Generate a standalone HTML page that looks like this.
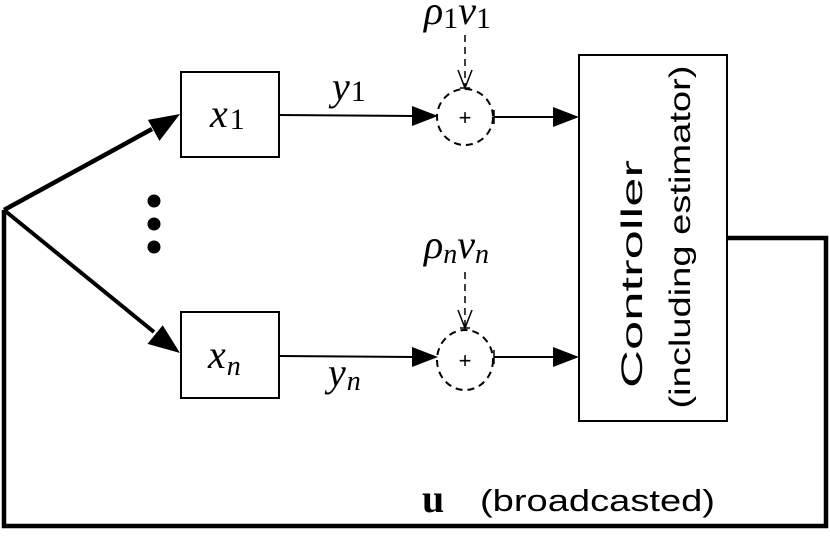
<!DOCTYPE html>
<html><head><style>body{margin:0;background:#fff}
.m{font-family:"Liberation Serif",serif;font-style:italic;font-size:40px}
.s{font-size:30px;font-style:normal}
.si{font-size:28px}
.sans{font-family:"Liberation Sans",sans-serif}
</style></head><body>
<svg width="830" height="534" viewBox="0 0 830 534" xmlns="http://www.w3.org/2000/svg">
<g fill="none" stroke="#000">
<rect x="181" y="72" width="98" height="85" stroke-width="2"/>
<rect x="181" y="312" width="98" height="86" stroke-width="2"/>
<rect x="579" y="55" width="148" height="366" stroke-width="2"/>
<polyline points="727,238 826,238 826,526 4,526 4,210" stroke-width="4.5"/>
<line x1="4" y1="210" x2="152" y2="129" stroke-width="4.5"/>
<line x1="4" y1="210" x2="154" y2="332" stroke-width="4"/>
<line x1="279" y1="115" x2="414" y2="116" stroke-width="2"/>
<line x1="279" y1="356" x2="414" y2="357" stroke-width="2"/>
<line x1="494" y1="117" x2="556" y2="117" stroke-width="2"/>
<line x1="494" y1="357" x2="556" y2="357" stroke-width="2"/>
<line x1="494" y1="110" x2="494" y2="124" stroke-width="1.5"/>
<line x1="494" y1="350" x2="494" y2="364" stroke-width="1.5"/>
<ellipse cx="465" cy="117" rx="28" ry="28" stroke-width="2" stroke-dasharray="7,5"/>
<ellipse cx="465" cy="360" rx="28" ry="30" stroke-width="2" stroke-dasharray="7,5"/>
<line x1="465" y1="35" x2="465" y2="88" stroke-width="1.5" stroke-dasharray="7,5"/>
<polyline points="458,70 465,88 472,70" stroke-width="1.5"/>
<line x1="460" y1="88" x2="470" y2="88" stroke-width="1.5"/>
<line x1="465" y1="272" x2="465" y2="328" stroke-width="1.5" stroke-dasharray="7,5"/>
<polyline points="458,310 465,328 472,310" stroke-width="1.5"/>
<line x1="460" y1="328" x2="470" y2="328" stroke-width="1.5"/>
</g>
<g fill="#000">
<polygon points="180,114 159.5,140.9 147.9,119.9"/>
<polygon points="180,353 147.5,343.9 162.7,325.3"/>
<polygon points="438,116 412,106 412,126"/>
<polygon points="579,117 553,107 553,127"/>
<polygon points="438,357 412,347 412,367"/>
<polygon points="579,357 553,347 553,367"/>
<circle cx="154" cy="201" r="6.5"/><circle cx="154" cy="224" r="6.5"/><circle cx="154" cy="247" r="6.5"/>
</g>
<g class="sans" text-anchor="middle" style="font-size:22px">
<text x="465" y="125">+</text>
<text x="465" y="368">+</text>
</g>
<g class="m">
<text x="210" y="127">x<tspan class="s" dx="2" dy="2">1</tspan></text>
<text x="208" y="368">x<tspan class="si" dx="1" dy="7">n</tspan></text>
<text x="332" y="100">y<tspan class="s" dx="1" dy="1">1</tspan></text>
<text x="328" y="386">y<tspan class="si" dx="1" dy="4">n</tspan></text>
<text x="424" y="24">ρ<tspan class="s" dy="4">1</tspan><tspan dy="-4">ν</tspan><tspan class="s" dy="4">1</tspan></text>
<text x="424" y="258">ρ<tspan class="si" dy="5">n</tspan><tspan dy="-5">ν</tspan><tspan class="si" dy="5">n</tspan></text>
<text x="422" y="512" style="font-style:normal;font-weight:bold;font-size:40px">u</text>
</g>
<text class="sans" x="480" y="511" style="font-size:31px" textLength="235" lengthAdjust="spacingAndGlyphs">(broadcasted)</text>
<g class="sans" text-anchor="middle" style="font-size:30px">
<text transform="translate(642,274) rotate(-90)" textLength="228" lengthAdjust="spacingAndGlyphs">Controller</text>
<text transform="translate(690,237) rotate(-90)" textLength="343" lengthAdjust="spacingAndGlyphs">(including estimator)</text>
</g>
</svg>
</body></html>
